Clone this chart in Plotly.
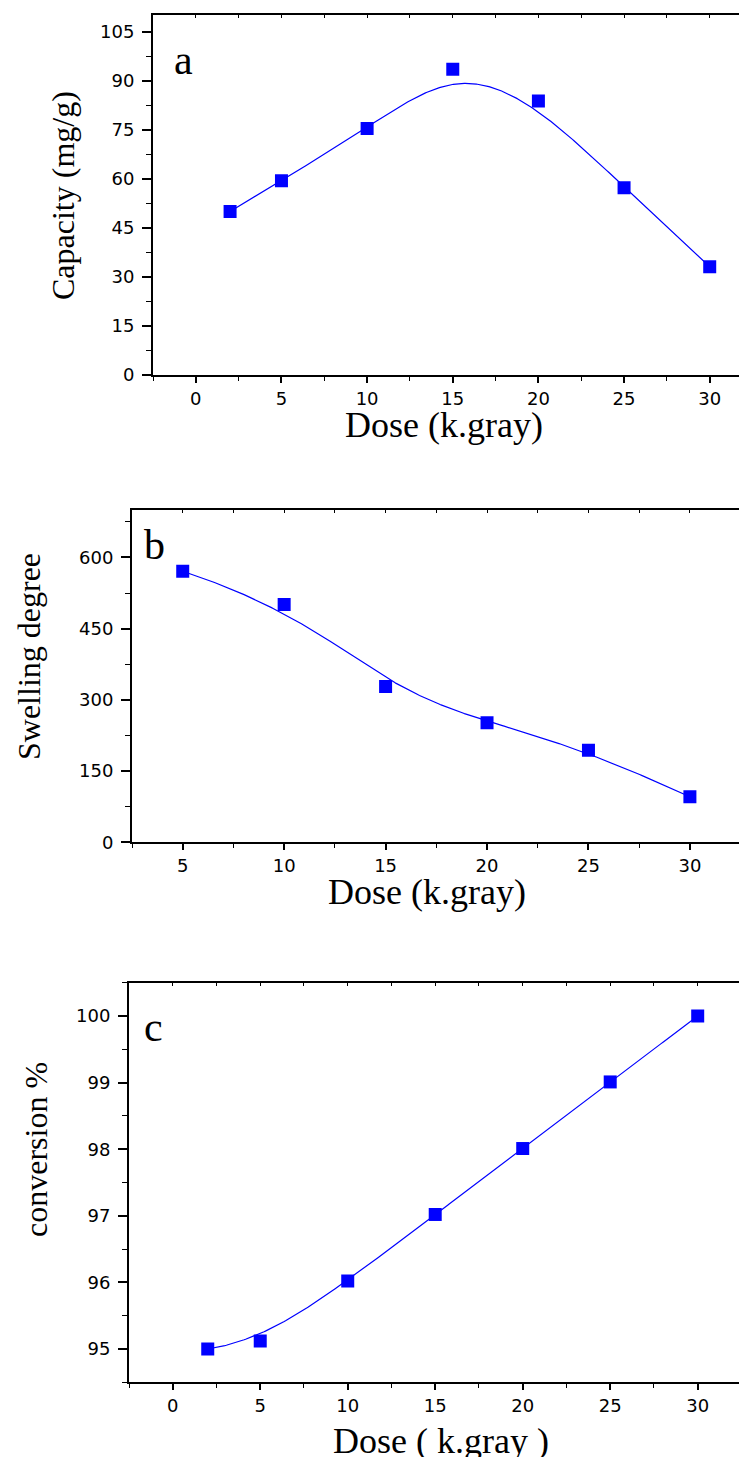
import numpy as np
import plotly.graph_objects as go

# ---------------- data ----------------
dose_a = [2, 5, 10, 15, 20, 25, 30]
capacity = [50.0, 59.4, 75.4, 93.5, 83.8, 57.3, 33.1]

dose_b = [5, 10, 15, 20, 25, 30]
swelling = [571, 501, 328, 252, 194, 96]

dose_c = [2, 5, 10, 15, 20, 25, 30]
conversion = [95.0, 95.12, 96.02, 97.02, 98.01, 99.01, 100.0]

W, H = 739, 1457
BLUE = "#0000ff"


def bspline(xs, ys, p=3, n=400):
    """Clamped uniform B-spline using the data points as control points."""
    P = np.column_stack([xs, ys]).astype(float)
    m = len(P)
    p = min(p, m - 1)
    t = np.concatenate([np.zeros(p + 1), np.arange(1, m - p), np.full(p + 1, m - p)]).astype(float)
    us = np.linspace(0, m - p, n)
    out = []
    for u in us:
        if u >= t[m]:
            s = m - 1
        else:
            s = int(np.searchsorted(t, u, side="right") - 1)
        d = [P[j + s - p].copy() for j in range(p + 1)]
        for r in range(1, p + 1):
            for j in range(p, r - 1, -1):
                den = t[j + 1 + s - r] - t[j + s - p]
                a = 0.0 if den == 0 else (u - t[j + s - p]) / den
                d[j] = (1 - a) * d[j - 1] + a * d[j]
        out.append(d[p])
    out = np.array(out)
    return out[:, 0], out[:, 1]


def py(v):  # pixel y (from top) -> paper
    return 1 - v / H


def pxx(v):
    return v / W


fig = go.Figure()

panels = [
    ("x", "y", dose_a, capacity),
    ("x2", "y2", dose_b, swelling),
    ("x3", "y3", dose_c, conversion),
]
for xa, ya, xs, ys in panels:
    cx, cy = bspline(xs, ys)
    fig.add_trace(go.Scatter(x=cx, y=cy, mode="lines", xaxis=xa, yaxis=ya,
                             line=dict(color=BLUE, width=1.2), showlegend=False,
                             hoverinfo="skip"))
    fig.add_trace(go.Scatter(x=xs, y=ys, mode="markers", xaxis=xa, yaxis=ya,
                             marker=dict(symbol="square", size=13, color=BLUE),
                             showlegend=False))

# dummy traces for top tick axes
for xa, ya in [("x4", "y"), ("x5", "y2"), ("x6", "y3")]:
    fig.add_trace(go.Scatter(x=[None], y=[None], xaxis=xa, yaxis=ya, showlegend=False))

TICKFONT = dict(family="DejaVu Sans", size=18, color="black")
TITLEFONT = "Liberation Serif"

common_x = dict(showgrid=False, zeroline=False, showline=True, linecolor="black", linewidth=2,
                mirror=True, ticks="outside", ticklen=6, tickwidth=1.5, tickcolor="black",
                tickfont=TICKFONT, fixedrange=True, automargin=False)
common_y = dict(showgrid=False, zeroline=False, showline=True, linecolor="black", linewidth=2,
                mirror=False, ticks="outside", ticklen=9, tickwidth=1.5, tickcolor="black",
                tickfont=TICKFONT, fixedrange=True, automargin=False)

# panel geometry (pixels)
geo = {
    "a": dict(left=153, top=15.3, bottom=375, xr=[-2.5, 31.71], yr=[0, 110], dtick_x=5, dtick_y=15),
    "b": dict(left=132, top=510, bottom=842.3, xr=[2.5, 32.42], yr=[0, 700], dtick_x=5, dtick_y=150),
    "c": dict(left=129, top=982.7, bottom=1382.3, xr=[-2.5, 32.36], yr=[94.5, 100.5], dtick_x=5, dtick_y=1),
}

layout = dict(width=W, height=H, margin=dict(l=0, r=0, t=0, b=0, autoexpand=False),
              paper_bgcolor="white", plot_bgcolor="white")

names = [("xaxis", "yaxis", "xaxis4", "a", "y", "x"),
         ("xaxis2", "yaxis2", "xaxis5", "b", "y2", "x2"),
         ("xaxis3", "yaxis3", "xaxis6", "c", "y3", "x3")]
for xk, yk, tk, key, yid, xid in names:
    g = geo[key]
    xdom = [pxx(g["left"]), 1.0]
    ydom = [py(g["bottom"]), py(g["top"])]
    x0 = 0 if key != "b" else 5
    layout[xk] = dict(common_x, domain=xdom, anchor=yid, range=g["xr"],
                      tick0=x0, dtick=g["dtick_x"], ticklabelstandoff=0,
                      minor=dict(dtick=g["dtick_x"] / 2, tick0=x0, ticks="outside", ticklen=4,
                                 tickwidth=1.2, tickcolor="black"))
    layout[yk] = dict(common_y, domain=ydom, anchor=xid, range=g["yr"],
                      tick0=g["yr"][0] if key != "c" else 95, dtick=g["dtick_y"],
                      ticklabelstandoff=4,
                      minor=dict(dtick=g["dtick_y"] / 2, ticks="outside", ticklen=5,
                                 tickwidth=1.2, tickcolor="black"))
    layout[tk] = dict(overlaying=xid, side="top", anchor=yid, range=g["xr"], showgrid=False,
                      zeroline=False, showline=False, showticklabels=False,
                      ticks="inside", ticklen=3, tickwidth=1, tickcolor="black",
                      tick0=x0, dtick=g["dtick_x"] / 2, fixedrange=True, automargin=False)

fig.update_layout(**layout)

ann = []
# x titles
for text, cx, cy in [("Dose (k.gray)", 444, 425), ("Dose (k.gray)", 427, 892),
                     ("Dose ( k.gray )", 441, 1441)]:
    ann.append(dict(text=text, x=pxx(cx), y=py(cy), xref="paper", yref="paper",
                    xanchor="center", yanchor="middle", showarrow=False,
                    font=dict(family=TITLEFONT, size=36, color="black")))
# y titles
for text, cx, cy in [("Capacity (mg/g)", 63, 196), ("Swelling degree", 29, 657),
                     ("conversion %", 36, 1150)]:
    ann.append(dict(text=text, x=pxx(cx), y=py(cy), xref="paper", yref="paper",
                    xanchor="center", yanchor="middle", showarrow=False, textangle=-90,
                    font=dict(family=TITLEFONT, size=32, color="black")))
# panel letters
for text, lx, ly in [("a", 172, 60), ("b", 142, 545), ("c", 142, 1027)]:
    ann.append(dict(text=text, x=pxx(lx), y=py(ly), xref="paper", yref="paper",
                    xanchor="left", yanchor="middle", showarrow=False,
                    font=dict(family=TITLEFONT, size=42, color="black")))
fig.update_layout(annotations=ann)

fig.write_html("out.html", config={"displayModeBar": False},
               post_script="document.body.style.margin='0px';document.body.style.padding='0px';")
